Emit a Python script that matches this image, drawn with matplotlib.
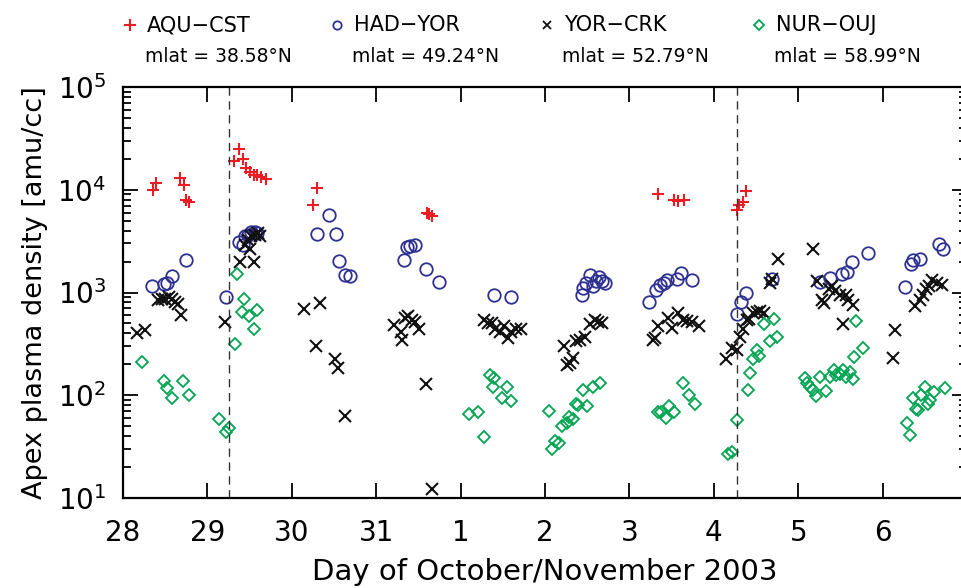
import numpy as np
import matplotlib
matplotlib.use('Agg')
import matplotlib.pyplot as plt
from matplotlib.lines import Line2D

# days since 28 Oct 2003 00 UT
aqu_t = [0.36, 0.39, 0.67, 0.72, 0.75, 0.78, 1.32, 1.37, 1.42, 1.46, 1.50, 1.55, 1.59, 1.64,
         1.69, 2.25, 2.30, 3.60, 3.63, 3.66, 6.34, 6.53, 6.58, 6.65, 7.28, 7.30, 7.35, 7.38]
aqu_n = [10000, 11700, 12900, 11000, 7900, 7600, 19000, 25000, 20000, 16200, 14800, 13800, 13800, 13200,
         12600, 7100, 10500, 6000, 5800, 5500, 9100, 7900, 7800, 7900, 6300, 7100, 7600, 9800]

had_t = [0.34, 0.48, 0.52, 0.58, 0.75, 1.22, 1.37, 1.42, 1.45, 1.48, 1.52, 1.56, 1.59,
         2.30, 2.44, 2.52, 2.56, 2.63, 2.69, 3.33, 3.37, 3.40, 3.46, 3.59, 3.74, 4.40, 4.60,
         5.44, 5.45, 5.48, 5.53, 5.57, 5.60, 5.64, 5.67, 5.71,
         6.23, 6.31, 6.36, 6.41, 6.45, 6.56, 6.61, 6.74, 7.27, 7.32, 7.38, 7.69,
         8.26, 8.38, 8.52, 8.58, 8.64, 8.83, 9.26, 9.34, 9.36, 9.44, 9.67, 9.72]
had_n = [1150, 1200, 1230, 1450, 2090, 910, 3090, 2880, 3550, 3630, 3890, 3890, 3800,
         3720, 5620, 3720, 2040, 1480, 1450, 2090, 2750, 2820, 2880, 1700, 1260, 950, 910,
         950, 1100, 1230, 1480, 1150, 1290, 1410, 1290, 1230,
         810, 1050, 1180, 1230, 1320, 1350, 1550, 1320, 620, 810, 980, 1350,
         1260, 1380, 1510, 1580, 2000, 2400, 1120, 1900, 2090, 2140, 2950, 2630]

yor_t = [0.16, 0.26, 0.42, 0.46, 0.50, 0.54, 0.58, 0.62, 0.65, 0.69,
         1.21, 1.39, 1.44, 1.48, 1.51, 1.52, 1.55, 1.56, 1.60, 1.62,
         2.14, 2.29, 2.33, 2.51, 2.55, 2.63,
         3.21, 3.29, 3.30, 3.34, 3.38, 3.42, 3.46, 3.51, 3.59, 3.66,
         4.28, 4.33, 4.37, 4.41, 4.47, 4.51, 4.56, 4.60, 4.66, 4.72,
         5.22, 5.26, 5.30, 5.33, 5.37, 5.41, 5.47, 5.53, 5.59, 5.63, 5.67,
         6.28, 6.30, 6.34, 6.46, 6.51, 6.58, 6.63, 6.68, 6.74, 6.82,
         7.14, 7.21, 7.27, 7.31, 7.35, 7.39, 7.42, 7.47, 7.51, 7.55, 7.59,
         7.67, 7.69, 7.76,
         8.18, 8.22, 8.28, 8.30, 8.36, 8.40, 8.44, 8.50, 8.53, 8.57, 8.59, 8.65,
         9.12, 9.15, 9.38, 9.44, 9.48, 9.52, 9.55, 9.59, 9.64, 9.70]
yor_n = [407, 427, 851, 871, 871, 912, 871, 813, 776, 603,
         513, 1995, 2884, 3236, 2630, 3548, 1995, 3631, 3802, 3548,
         692, 302, 794, 224, 186, 63,
         479, 417, 347, 562, 589, 537, 513, 437, 129, 12.3,
         537, 501, 501, 437, 417, 468, 363, 417, 437, 437,
         302, 195, 204, 229, 339, 347, 372, 490, 537, 513, 501,
         347, 363, 468, 562, 447, 631, 537, 525, 513, 468,
         224, 288, 275, 372, 437, 537, 550, 631, 646, 661, 631,
         1230, 1349, 2138,
         2630, 1288, 851, 794, 1072, 1148, 1023, 955, 490, 955, 851, 759,
         229, 427, 741, 851, 955, 1072, 1148, 1318, 1230, 1175]

nur_t = [0.23, 0.49, 0.52, 0.58, 0.71, 0.78,
         1.14, 1.22, 1.26, 1.33, 1.35, 1.41, 1.43, 1.49, 1.55, 1.59,
         4.10, 4.21, 4.28, 4.35, 4.38, 4.39, 4.49, 4.55, 4.60,
         5.05, 5.08, 5.12, 5.16, 5.20, 5.26, 5.29, 5.33, 5.37, 5.39, 5.45, 5.50, 5.57, 5.65,
         6.34, 6.38, 6.43, 6.47, 6.53, 6.63, 6.71, 6.78,
         7.17, 7.22, 7.27, 7.40, 7.43, 7.47, 7.51, 7.53, 7.59, 7.66, 7.71, 7.75,
         8.08, 8.10, 8.14, 8.17, 8.21, 8.26, 8.33, 8.38, 8.42, 8.45, 8.49, 8.53, 8.57, 8.61,
         8.65, 8.66, 8.69, 8.77,
         9.29, 9.32, 9.36, 9.40, 9.42, 9.46, 9.50, 9.54, 9.56, 9.61, 9.74]
nur_n = [209, 138, 117, 93, 138, 100,
         59, 44, 48, 316, 1514, 646, 871, 589, 437, 676,
         66, 68, 39, 158, 120, 148, 95, 120, 87,
         71, 30, 36, 34, 50, 54, 62, 59, 83, 81, 112, 79, 120, 132,
         69, 68, 60, 78, 68, 132, 100, 83,
         27, 28, 58, 112, 166, 224, 275, 240, 490, 339, 550, 372,
         148, 132, 120, 112, 98, 151, 110, 151, 178, 158, 162, 178, 151, 170,
         145, 234, 525, 288,
         54, 41, 95, 74, 72, 100, 120, 83, 89, 107, 117]

storm_t = [1.26, 7.28]   # dashed lines
day_labels = ['28', '29', '30', '31', '1', '2', '3', '4', '5', '6']
stations = ['AQU\u2212CST', 'HAD\u2212YOR', 'YOR\u2212CRK', 'NUR\u2212OUJ']
mlats = ['38.58', '49.24', '52.79', '58.99']

red = '#ec1c24'
blue = '#2e3192'
black = '#111111'
green = '#00a651'

plt.rcParams['font.family'] = 'DejaVu Sans'

fig = plt.figure(figsize=(9.62, 5.88), dpi=100)
ax = fig.add_axes([123/962, 1-498/588, (967-123)/962, (498-87)/588])

ax.plot(aqu_t, aqu_n, '+', color=red, ms=9, mew=1.5, ls='none')
ax.plot(had_t, had_n, 'o', color=blue, mfc='none', ms=9, mew=1.3, ls='none')
ax.plot(yor_t, yor_n, 'x', color=black, ms=8, mew=1.5, ls='none')
ax.plot(nur_t, nur_n, 'D', color=green, mfc='none', ms=6, mew=1.3, ls='none')

for s in storm_t:
    ax.axvline(s, color='#333333', lw=1, ls=(0, (6, 4)))

ax.set_yscale('log')
ax.set_ylim(10, 1e5)
ax.set_xlim(0, 10)
ax.set_xticks(range(len(day_labels)))
ax.set_xticklabels(day_labels)

ax.tick_params(which='both', direction='in', top=True, right=True, width=1.3)
ax.tick_params(which='major', length=11, labelsize=20, pad=12)
ax.tick_params(axis='x', which='major', pad=15)
ax.tick_params(which='minor', length=6)
for sp in ax.spines.values():
    sp.set_linewidth(1.6)

ax.set_xlabel('Day of October/November 2003', fontsize=21, labelpad=8)
ax.set_ylabel('Apex plasma density [amu/cc]', fontsize=19.5, labelpad=7)

# legend row above the plot
leg_x = [130, 337, 547, 759]
lines = [dict(marker='+', color=red, mfc='none', ms=9, mew=1.5),
         dict(marker='o', color=blue, mfc='none', ms=6, mew=1.3),
         dict(marker='x', color=black, mfc='none', ms=6, mew=1.3),
         dict(marker='D', color=green, mfc='none', ms=5, mew=1.3)]
for x0, st, ml, kw in zip(leg_x, stations, mlats, lines):
    fig.add_artist(Line2D([x0/962], [1-25/588], ls='none', transform=fig.transFigure, **kw))
    fig.text((x0+17)/962, 1-25/588, st, fontsize=15, va='center', ha='left')
    fig.text((x0+15)/962, 1-57/588, 'mlat = ' + ml + '\u00b0N', fontsize=13.5, va='center', ha='left')

fig.savefig('out.png', dpi=100)
